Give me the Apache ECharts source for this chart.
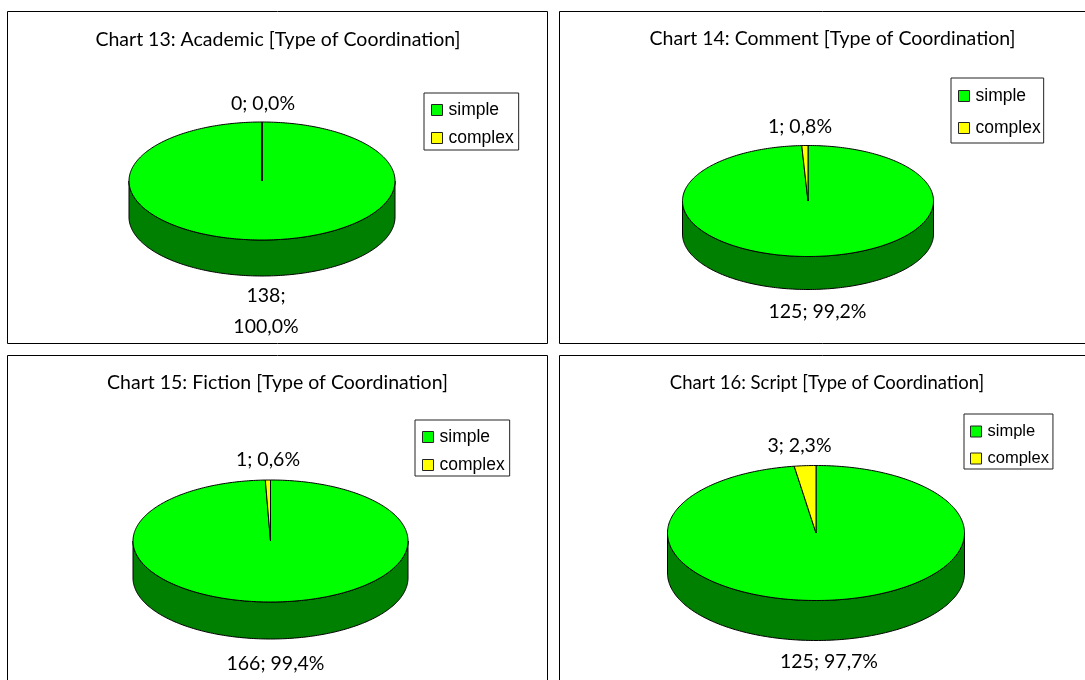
<!DOCTYPE html>
<html>
<head>
<meta charset="utf-8">
<style>html,body{margin:0;padding:0;background:#fff}#chart{width:1085px;height:680px}</style>
<script src="https://cdn.jsdelivr.net/npm/echarts@6/dist/echarts.min.js"></script>
</head>
<body>
<div id="chart"></div>
<script>
// Coordination counts per text genre
const chartTitles = [
  'Chart 13: Academic [Type of Coordination]',
  'Chart 14: Comment [Type of Coordination]',
  'Chart 15: Fiction [Type of Coordination]',
  'Chart 16: Script [Type of Coordination]'
];
const categories = ['simple', 'complex'];
const simpleCounts = [138, 125, 166, 125];
const complexCounts = [0, 1, 1, 3];

// Panel frames, pie geometry and label anchors
const panels = [
  { box: [7, 11, 540, 332], cx: 262, cy: 181, rx: 133, ry: 59, depth: 36,
    title: [278, 40], titleSize: 19.5, simpleLabel: [266, 311], complexLabel: [263, 104], sep: '\n',
    legend: [424, 93], legendSize: 17.5, gap: 10, pad: [8, 5, 3, 7] },
  { box: [559, 11, 540, 332], cx: 808, cy: 201, rx: 125.5, ry: 55.5, depth: 33,
    title: [832.5, 39], titleSize: 19.5, simpleLabel: [817.5, 312], complexLabel: [800, 127], sep: ' ',
    legend: [951, 78], legendSize: 17.5, gap: 14, pad: [9, 3, 6, 7] },
  { box: [7, 355, 540, 340], cx: 270.5, cy: 541, rx: 137.5, ry: 61, depth: 37,
    title: [277.5, 383], titleSize: 19.5, simpleLabel: [275.5, 664], complexLabel: [268, 460], sep: ' ',
    legend: [415, 420], legendSize: 17.5, gap: 10, pad: [8, 5, 2, 7] },
  { box: [559, 355, 540, 340], cx: 816, cy: 533, rx: 148.5, ry: 67.5, depth: 40,
    title: [827, 383], titleSize: 18.5, simpleLabel: [829, 662], complexLabel: [799.5, 446], sep: ' ',
    legend: [964, 414], legendSize: 16.5, gap: 10, pad: [9, 4, 2, 6] }
];

const sliceColors = { simple: '#00ff00', complex: '#ffff00' };
const wallColors = { simple: '#008000', complex: '#808000' };
const labelFont = '19.5px Lato, Carlito, sans-serif';

function formatLabel(count, total, sep) {
  const pct = (count / total * 100).toFixed(1).replace('.', ',');
  return count + ';' + sep + pct + '%';
}

// Point on the tilted pie rim; turn 0 is twelve o'clock, running clockwise
function rimPoint(p, turn, dy) {
  const a = turn * 2 * Math.PI;
  return [p.cx + p.rx * Math.sin(a), p.cy - p.ry * Math.cos(a) + (dy || 0)];
}

function arc(p, from, to, dy) {
  const steps = Math.max(1, Math.ceil((to - from) * 360));
  const pts = [];
  for (let s = 0; s <= steps; s++) pts.push(rimPoint(p, from + (to - from) * s / steps, dy));
  return pts;
}

function sliceSeries(name, i) {
  const p = panels[i];
  const total = simpleCounts[i] + complexCounts[i];
  const isSimple = name === 'simple';
  const count = isSimple ? simpleCounts[i] : complexCounts[i];
  const start = isSimple ? 0 : simpleCounts[i] / total;
  return {
    type: 'custom',
    name: name,
    coordinateSystem: 'none',
    silent: true,
    clip: false,
    z: isSimple ? 2 : 3,
    itemStyle: { color: sliceColors[name], borderColor: '#000', borderWidth: 1 },
    data: [[count, start, total]],
    renderItem: function (params, api) {
      const value = api.value(0);
      const from = api.value(1);
      const to = from + value / api.value(2);
      const children = [];
      // Side wall: only the part of the slice facing the viewer
      const wallFrom = Math.max(from, 0.25);
      const wallTo = Math.min(to, 0.75);
      if (wallTo > wallFrom) {
        const upper = arc(p, wallFrom, wallTo, 0);
        const lower = arc(p, wallFrom, wallTo, p.depth).reverse();
        children.push({
          type: 'polygon',
          shape: { points: upper.concat(lower) },
          style: { fill: wallColors[name], stroke: '#000', lineWidth: 1 }
        });
      }
      // Top face
      children.push({
        type: 'polygon',
        shape: { points: [[p.cx, p.cy]].concat(arc(p, from, to, 0)) },
        style: { fill: sliceColors[name], stroke: '#000', lineWidth: 1 }
      });
      // Count and share
      const anchor = isSimple ? p.simpleLabel : p.complexLabel;
      children.push({
        type: 'text',
        style: {
          text: formatLabel(value, api.value(2), isSimple ? p.sep : ' '),
          x: anchor[0], y: anchor[1],
          align: 'center', verticalAlign: 'middle',
          font: labelFont, lineHeight: 31, fill: '#000'
        }
      });
      return { type: 'group', children: children };
    }
  };
}

const option = {
  animation: false,
  backgroundColor: '#fff',
  title: panels.map((p, i) => ({
    text: chartTitles[i],
    left: p.title[0],
    top: p.title[1],
    textAlign: 'center',
    textVerticalAlign: 'middle',
    padding: 0,
    textStyle: { fontFamily: 'Lato, Carlito, sans-serif', fontSize: p.titleSize, fontWeight: 'normal', color: '#000' }
  })),
  legend: panels.map(p => ({
    data: categories,
    orient: 'vertical',
    left: p.legend[0],
    top: p.legend[1],
    icon: 'rect',
    itemWidth: 11,
    itemHeight: 11,
    itemGap: p.gap,
    padding: p.pad,
    selectedMode: false,
    backgroundColor: '#fff',
    borderColor: '#222',
    borderWidth: 1,
    borderRadius: 0,
    itemStyle: { borderColor: '#222', borderWidth: 1 },
    textStyle: { fontFamily: '"Liberation Sans", Arial, sans-serif', fontSize: p.legendSize, color: '#000', padding: [0, 0, 0, 1] }
  })),
  graphic: panels.map(p => ({
    type: 'rect',
    silent: true,
    shape: { x: p.box[0] + 0.5, y: p.box[1] + 0.5, width: p.box[2], height: p.box[3] },
    style: { fill: 'none', stroke: '#000', lineWidth: 1 }
  })),
  series: panels.flatMap((p, i) => categories.map(name => sliceSeries(name, i)))
};

echarts.init(document.getElementById('chart'), null, { renderer: 'canvas' }).setOption(option);
</script>
</body>
</html>
